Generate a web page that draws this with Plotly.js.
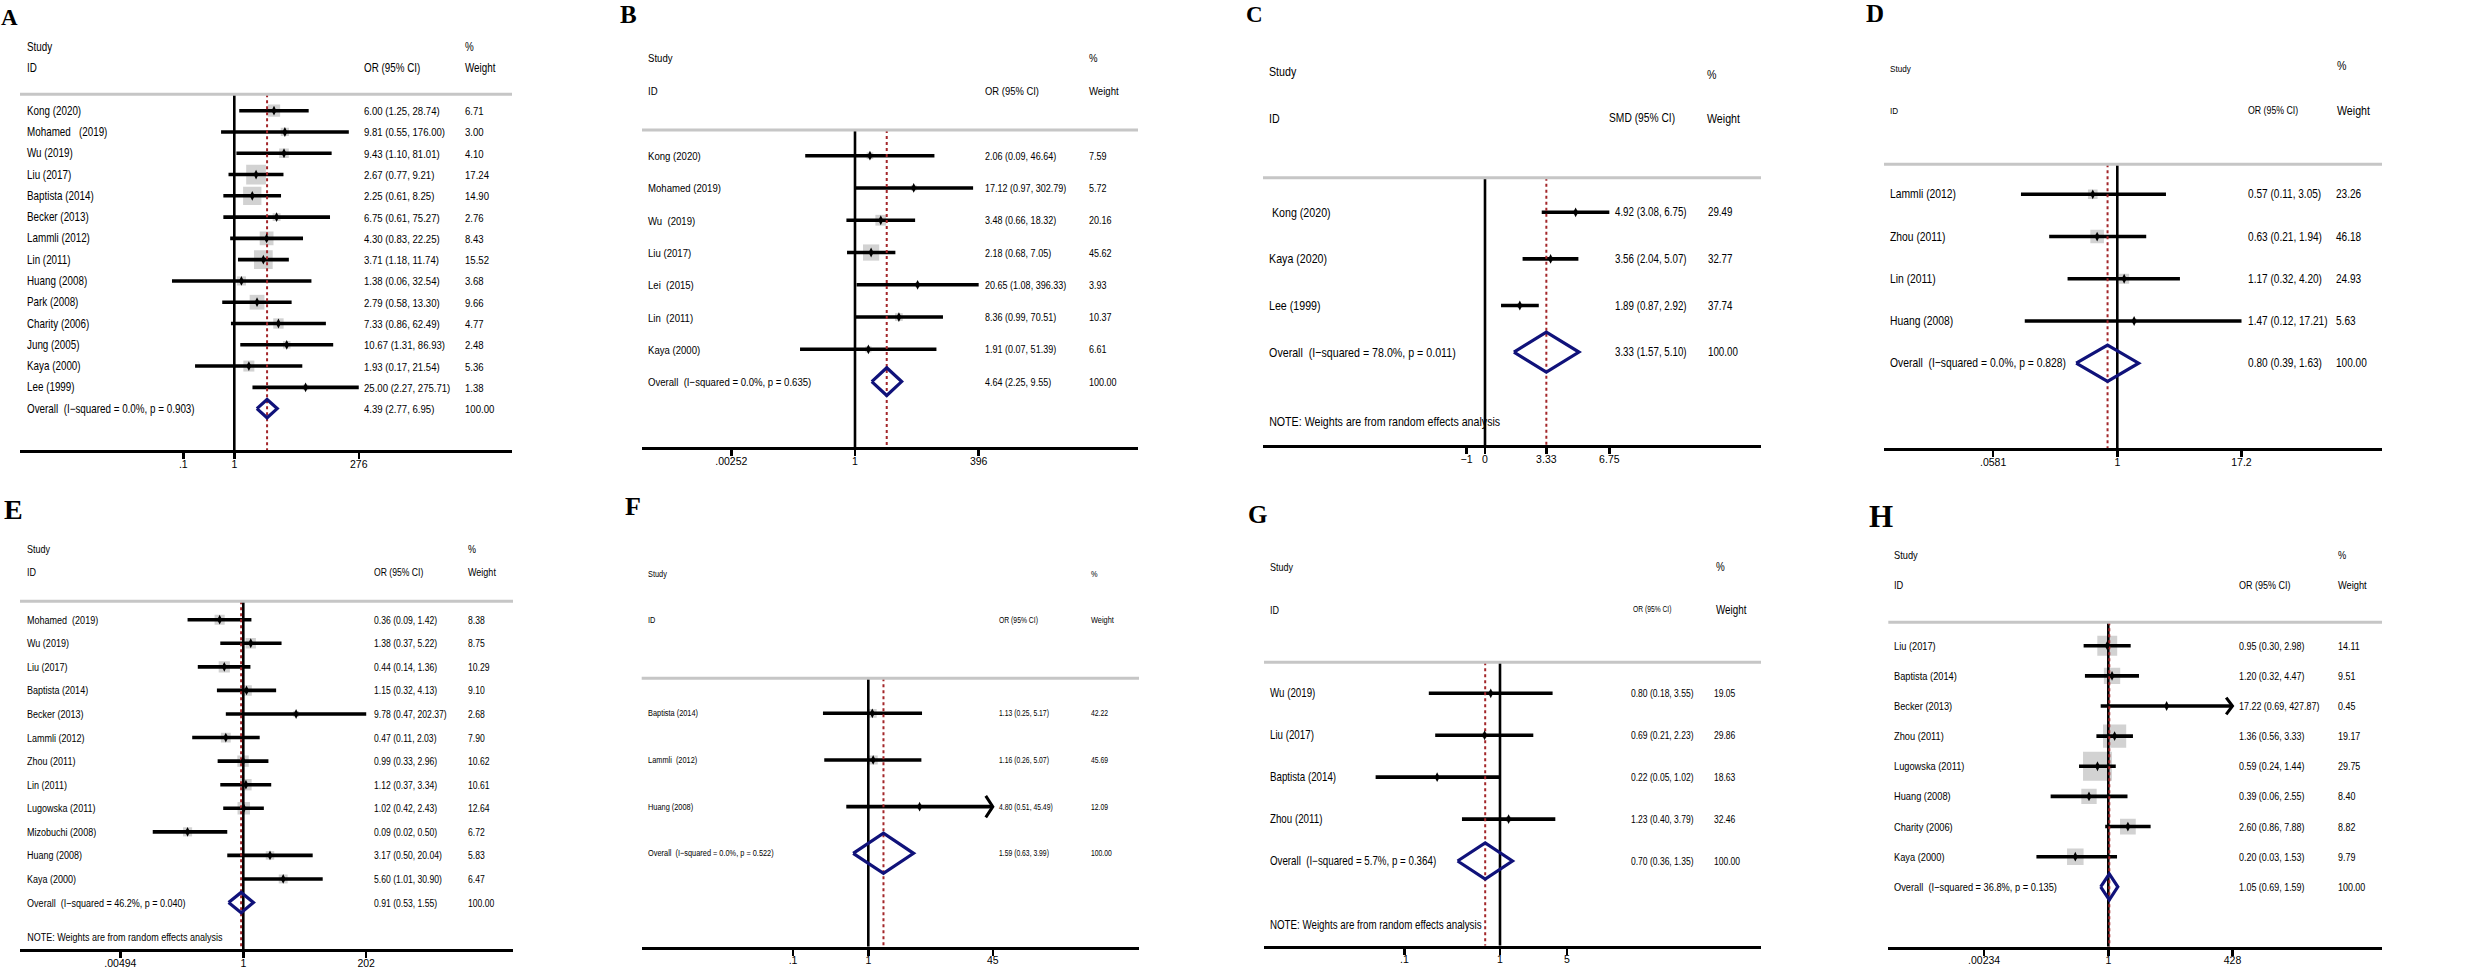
<!DOCTYPE html>
<html><head><meta charset="utf-8">
<script src="https://cdn.plot.ly/plotly-3.0.1.min.js"></script>
<style>html,body{margin:0;padding:0;background:#fff}#chart{width:2480px;height:968px}</style>
</head><body><div id="chart"></div>
<script>
// ================= DATA =================
// Panel A
const A_ids = ["Kong (2020)","Mohamed\u00a0\u00a0 (2019)","Wu (2019)","Liu (2017)","Baptista (2014)","Becker (2013)","Lammli (2012)","Lin (2011)","Huang (2008)","Park (2008)","Charity (2006)","Jung (2005)","Kaya (2000)","Lee (1999)"];
const A_est = [6.00,9.81,9.43,2.67,2.25,6.75,4.30,3.71,1.38,2.79,7.33,10.67,1.93,25.00];
const A_lo  = [1.25,0.55,1.10,0.77,0.61,0.61,0.83,1.18,0.06,0.58,0.86,1.31,0.17,2.27];
const A_hi  = [28.74,176.00,81.01,9.21,8.25,75.27,22.25,11.74,32.54,13.30,62.49,86.93,21.54,275.71];
const A_w   = [6.71,3.00,4.10,17.24,14.90,2.76,8.43,15.52,3.68,9.66,4.77,2.48,5.36,1.38];
const A_overall = [4.39,2.77,6.95];
const A_overallLabel = "Overall\u00a0 (I\u2212squared = 0.0%, p = 0.903)";
const A_tickVals = [0.1,1,276];
const A_tickText = [".1","1","276"];

// Panel B
const B_ids = ["Kong (2020)","Mohamed (2019)","Wu\u00a0 (2019)","Liu (2017)","Lei\u00a0 (2015)","Lin\u00a0 (2011)","Kaya (2000)"];
const B_est = [2.06,17.12,3.48,2.18,20.65,8.36,1.91];
const B_lo  = [0.09,0.97,0.66,0.68,1.08,0.99,0.07];
const B_hi  = [46.64,302.79,18.32,7.05,396.33,70.51,51.39];
const B_w   = [7.59,5.72,20.16,45.62,3.93,10.37,6.61];
const B_overall = [4.64,2.25,9.55];
const B_overallLabel = "Overall\u00a0 (I\u2212squared = 0.0%, p = 0.635)";
const B_tickVals = [0.00252,1,396];
const B_tickText = [".00252","1","396"];

// Panel C (SMD, linear)
const C_ids = ["\u00a0Kong (2020)","Kaya (2020)","Lee (1999)"];
const C_est = [4.92,3.56,1.89];
const C_lo  = [3.08,2.04,0.87];
const C_hi  = [6.75,5.07,2.92];
const C_w   = [29.49,32.77,37.74];
const C_overall = [3.33,1.57,5.10];
const C_overallLabel = "Overall\u00a0 (I\u2212squared = 78.0%, p = 0.011)";
const C_tickVals = [-1,0,3.33,6.75];
const C_tickText = ["\u22121","0","3.33","6.75"];

// Panel D
const D_ids = ["Lammli (2012)","Zhou (2011)","Lin (2011)","Huang (2008)"];
const D_est = [0.57,0.63,1.17,1.47];
const D_lo  = [0.11,0.21,0.32,0.12];
const D_hi  = [3.05,1.94,4.20,17.21];
const D_w   = [23.26,46.18,24.93,5.63];
const D_overall = [0.80,0.39,1.63];
const D_overallLabel = "Overall\u00a0 (I\u2212squared = 0.0%, p = 0.828)";
const D_tickVals = [0.0581,1,17.2];
const D_tickText = [".0581","1","17.2"];

// Panel E
const E_ids = ["Mohamed\u00a0 (2019)","Wu (2019)","Liu (2017)","Baptista (2014)","Becker (2013)","Lammli (2012)","Zhou (2011)","Lin (2011)","Lugowska (2011)","Mizobuchi (2008)","Huang (2008)","Kaya (2000)"];
const E_est = [0.36,1.38,0.44,1.15,9.78,0.47,0.99,1.12,1.02,0.09,3.17,5.60];
const E_lo  = [0.09,0.37,0.14,0.32,0.47,0.11,0.33,0.37,0.42,0.02,0.50,1.01];
const E_hi  = [1.42,5.22,1.36,4.13,202.37,2.03,2.96,3.34,2.43,0.50,20.04,30.90];
const E_w   = [8.38,8.75,10.29,9.10,2.68,7.90,10.62,10.61,12.64,6.72,5.83,6.47];
const E_overall = [0.91,0.53,1.55];
const E_overallLabel = "Overall\u00a0 (I\u2212squared = 46.2%, p = 0.040)";
const E_tickVals = [0.00494,1,202];
const E_tickText = [".00494","1","202"];

// Panel F
const F_ids = ["Baptista (2014)","Lammli\u00a0 (2012)","Huang (2008)"];
const F_est = [1.13,1.16,4.80];
const F_lo  = [0.25,0.26,0.51];
const F_hi  = [5.17,5.07,45.49];
const F_w   = [42.22,45.69,12.09];
const F_arrow = [false,false,true];
const F_overall = [1.59,0.63,3.99];
const F_overallLabel = "Overall\u00a0 (I\u2212squared = 0.0%, p = 0.522)";
const F_tickVals = [0.1,1,45];
const F_tickText = [".1","1","45"];

// Panel G
const G_ids = ["Wu (2019)","Liu (2017)","Baptista (2014)","Zhou (2011)"];
const G_est = [0.80,0.69,0.22,1.23];
const G_lo  = [0.18,0.21,0.05,0.40];
const G_hi  = [3.55,2.23,1.02,3.79];
const G_w   = [19.05,29.86,18.63,32.46];
const G_overall = [0.70,0.36,1.35];
const G_overallLabel = "Overall\u00a0 (I\u2212squared = 5.7%, p = 0.364)";
const G_tickVals = [0.1,1,5];
const G_tickText = [".1","1","5"];

// Panel H
const H_ids = ["Liu (2017)","Baptista (2014)","Becker (2013)","Zhou (2011)","Lugowska (2011)","Huang (2008)","Charity (2006)","Kaya (2000)"];
const H_est = [0.95,1.20,17.22,1.36,0.59,0.39,2.60,0.20];
const H_lo  = [0.30,0.32,0.69,0.56,0.24,0.06,0.86,0.03];
const H_hi  = [2.98,4.47,427.87,3.33,1.44,2.55,7.88,1.53];
const H_w   = [14.11,9.51,0.45,19.17,29.75,8.40,8.82,9.79];
const H_arrow = [false,false,true,false,false,false,false,false];
const H_overall = [1.05,0.69,1.59];
const H_overallLabel = "Overall\u00a0 (I\u2212squared = 36.8%, p = 0.135)";
const H_tickVals = [0.00234,1,428];
const H_tickText = [".00234","1","428"];

const NOTE_TEXT = "NOTE: Weights are from random effects analysis";

// ================= PANEL SETUP =================
const panels = [
 {letter:"A", ids:A_ids, est:A_est, lo:A_lo, hi:A_hi, w:A_w, ov:A_overall, ovLabel:A_overallLabel, tv:A_tickVals, tt:A_tickText, measure:"OR (95% CI)", note:false, arrow:null, log:true,
  pos:{off:[0,0], axL:20, axR:512, axY:450, grayY:94.3, x1:234.3, s:51, row0:110.7, sp:21.28, labelX:25.7, ciX:363.3, wX:464, studyY:46.7, idY:68.3, hdrOrX:363.3, pctX:464, pctY:46.7, letterXY:[9,17.5], letterFs:23, fs:12, ciFs:11.7, hdrFs:12, idFs:12, orFs:12, k:4.75}},
 {letter:"B", ids:B_ids, est:B_est, lo:B_lo, hi:B_hi, w:B_w, ov:B_overall, ovLabel:B_overallLabel, tv:B_tickVals, tt:B_tickText, measure:"OR (95% CI)", note:false, arrow:null, log:true,
  pos:{off:[620,0], axL:22, axR:518, axY:447, grayY:130, x1:235, s:47.6, row0:155.7, sp:32.27, labelX:27.3, ciX:364.3, wX:468.3, studyY:58, idY:90.7, hdrOrX:364.3, pctX:468.3, pctY:58, letterXY:[8,14], letterFs:25, fs:11.7, ciFs:11, hdrFs:11.7, idFs:11.7, orFs:11.5, k:2.4}},
 {letter:"C", ids:C_ids, est:C_est, lo:C_lo, hi:C_hi, w:C_w, ov:C_overall, ovLabel:C_overallLabel, tv:C_tickVals, tt:C_tickText, measure:"SMD (95% CI)", note:true, arrow:null, log:false,
  pos:{off:[1240,0], axL:23, axR:521, axY:445, grayY:177.7, x1:245, s:18.42, row0:212.3, sp:46.6, labelX:28.3, ciX:374.3, wX:466.7, studyY:71.7, idY:118.3, hdrOrX:367.7, pctX:465.7, pctY:74, letterXY:[14.5,14], letterFs:23, fs:13, ciFs:11.9, hdrFs:13, idFs:13, orFs:12.5, k:0.8, noteY:421.7}},
 {letter:"D", ids:D_ids, est:D_est, lo:D_lo, hi:D_hi, w:D_w, ov:D_overall, ovLabel:D_overallLabel, tv:D_tickVals, tt:D_tickText, measure:"OR (95% CI)", note:false, arrow:null, log:true,
  pos:{off:[1860,0], axL:24, axR:522, axY:448.3, grayY:164.3, x1:257.3, s:100.5, row0:194.3, sp:42.23, labelX:29.3, ciX:387.3, wX:475, studyY:68.3, idY:110, hdrOrX:387.3, pctX:475.7, pctY:65.7, letterXY:[15,13], letterFs:25, fs:12.6, ciFs:12.3, hdrFs:9.9, idFs:9.9, orFs:10.7, wHdrFs:13, k:2.0}},
 {letter:"E", ids:E_ids, est:E_est, lo:E_lo, hi:E_hi, w:E_w, ov:E_overall, ovLabel:E_overallLabel, tv:E_tickVals, tt:E_tickText, measure:"OR (95% CI)", note:true, arrow:null, log:true,
  pos:{off:[0,484], axL:20, axR:513, axY:465, grayY:117.3, x1:243.3, s:53.3, row0:135.7, sp:23.57, labelX:25.7, ciX:372.7, wX:466.7, studyY:65, idY:88.3, hdrOrX:372.7, pctX:466.7, pctY:65, letterXY:[13,25], letterFs:28, fs:11, ciFs:10.5, hdrFs:11, idFs:11, orFs:10.5, k:3.5, noteY:453.3}},
 {letter:"F", ids:F_ids, est:F_est, lo:F_lo, hi:F_hi, w:F_w, ov:F_overall, ovLabel:F_overallLabel, tv:F_tickVals, tt:F_tickText, measure:"OR (95% CI)", note:false, arrow:F_arrow, log:true,
  pos:{off:[620,484], axL:21.7, axR:519, axY:462.7, grayY:194.3, x1:248.3, s:75.3, row0:229.3, sp:46.67, labelX:26.7, ciX:377.7, wX:470, studyY:90, idY:136, hdrOrX:377.7, pctX:470, pctY:90, letterXY:[12.5,22.5], letterFs:26, fs:9, ciFs:8.3, hdrFs:9, idFs:9, orFs:8.3, k:1.35, arrowF:1.24, arrowH:0.23}},
 {letter:"G", ids:G_ids, est:G_est, lo:G_lo, hi:G_hi, w:G_w, ov:G_overall, ovLabel:G_overallLabel, tv:G_tickVals, tt:G_tickText, measure:"OR (95% CI)", note:true, arrow:null, log:true,
  pos:{off:[1240,484], axL:24, axR:521, axY:461.7, grayY:178.3, x1:260, s:95.6, row0:209.3, sp:41.93, labelX:29.3, ciX:390, wX:473.3, studyY:83.3, idY:125.7, hdrOrX:392.3, pctX:475, pctY:83.3, letterXY:[17.5,30], letterFs:25, fs:11.9, ciFs:10.4, hdrFs:11, idFs:11, orFs:8.2, wHdrFs:12, k:0.9, noteY:440.7}},
 {letter:"H", ids:H_ids, est:H_est, lo:H_lo, hi:H_hi, w:H_w, ov:H_overall, ovLabel:H_overallLabel, tv:H_tickVals, tt:H_tickText, measure:"OR (95% CI)", note:false, arrow:H_arrow, log:true,
  pos:{off:[1860,484], axL:28.3, axR:522, axY:462.7, grayY:138.3, x1:248.3, s:47.2, row0:161.7, sp:30.14, labelX:33.3, ciX:377.7, wX:476.7, studyY:71, idY:101, hdrOrX:377.7, pctX:476.7, pctY:71, letterXY:[21,32], letterFs:31, fs:11.3, ciFs:10.9, hdrFs:11.3, idFs:11.3, orFs:11, k:5.3, arrowF:1.36, arrowH:0.28}}
];

const FONT = "'Liberation Sans', Arial, sans-serif";
const SERIF = "'Liberation Serif', 'Times New Roman', serif";
const NARROW = 0.82;   // horizontal compression to mimic condensed typeface
const W = 2480, H = 968;
const NAVY = "#10127a", RED = "#a3262a", GRAY = "#bfbfbf";
const f2 = v => v.toFixed(2);

const traces = [], annotations = [], shapes = [];
const layout = {
  width: W, height: H, margin: {l:0, r:0, t:0, b:0},
  paper_bgcolor: "#fff", plot_bgcolor: "#fff", showlegend: false,
  font: {family: FONT, color: "#000"}
};

function ann(text, x, y, xref, yref, size, opts) {
  annotations.push(Object.assign({text, x, y, xref, yref, showarrow:false, borderpad:0,
    xanchor:"left", yanchor:"middle", font:{family:FONT, size, color:"#000"}}, opts||{}));
}

panels.forEach((p, idx) => {
  const n = idx + 1;
  const xa = n === 1 ? "x" : "x" + n, ya = n === 1 ? "y" : "y" + n;
  const xk = n === 1 ? "xaxis" : "xaxis" + n, yk = n === 1 ? "yaxis" : "yaxis" + n;
  const P = p.pos;
  const px = v => (P.off[0] + v) / W;
  const py = v => 1 - (P.off[1] + v) / H;

  const yBot = (P.axY - P.row0) / P.sp, yTop = (P.grayY - P.row0) / P.sp;
  layout[xk] = {
    domain: [px(P.axL), px(P.axR)], type: p.log ? "log" : "linear",
    range: [(P.axL - P.x1) / P.s, (P.axR - P.x1) / P.s], anchor: ya,
    showline: true, linewidth: 3, linecolor: "#000", mirror: false,
    ticks: "outside", ticklen: 6, tickwidth: 2.5, tickcolor: "#000",
    ticklabelstandoff: -4,
    tickmode: "array", tickvals: p.tv, ticktext: p.tt,
    tickfont: {family: FONT, size: 10.5, color: "#000"},
    showgrid: false, zeroline: false, fixedrange: true
  };
  layout[yk] = {domain: [py(P.axY), py(P.grayY)], range: [yBot, yTop], visible: false,
    anchor: xa, fixedrange: true, showgrid:false, zeroline:false};

  // gray header separator
  shapes.push({type:"line", xref:"paper", yref:"paper", x0:px(P.axL), x1:px(P.axR),
    y0:py(P.grayY), y1:py(P.grayY), line:{color:"#c6c6c6", width:3}});

  const rows = p.ids.map((_, i) => i);
  const nOv = p.ids.length;
  const ref = p.log ? 1 : 0;
  const xmax = p.tv[p.tv.length - 1];

  // weight boxes
  traces.push({type:"scatter", mode:"markers", xaxis:xa, yaxis:ya, x:p.est, y:rows, hoverinfo:"skip",
    marker:{symbol:"square", color:GRAY, size:p.w.map(w => P.k * Math.sqrt(w)), line:{width:0}}});

  // CI lines (clipped with arrow when flagged)
  const cx = [], cy = [], ax = [], ay = [];
  p.ids.forEach((_, i) => {
    const clip = p.arrow && p.arrow[i];
    const hi = clip ? xmax : p.hi[i];
    cx.push(p.lo[i], hi, null); cy.push(i, i, null);
    if (clip) {
      ax.push(xmax / P.arrowF, xmax, xmax / P.arrowF, null);
      ay.push(i - P.arrowH, i, i + P.arrowH, null);
    }
  });
  traces.push({type:"scatter", mode:"lines", xaxis:xa, yaxis:ya, x:cx, y:cy, hoverinfo:"skip",
    line:{color:"#000", width:3.6}, connectgaps:false});
  if (ax.length) traces.push({type:"scatter", mode:"lines", xaxis:xa, yaxis:ya, x:ax, y:ay, hoverinfo:"skip",
    line:{color:"#000", width:3}, connectgaps:false});

  // null line
  traces.push({type:"scatter", mode:"lines", xaxis:xa, yaxis:ya, x:[ref, ref], y:[yTop, yBot], hoverinfo:"skip",
    line:{color:"#000", width:2.6}});
  // overall dashed line
  traces.push({type:"scatter", mode:"lines", xaxis:xa, yaxis:ya, x:[p.ov[0], p.ov[0]], y:[yTop, yBot], hoverinfo:"skip",
    line:{color:RED, width:2, dash:"3px,3px"}});

  // point estimates
  traces.push({type:"scatter", mode:"markers", xaxis:xa, yaxis:ya, x:p.est, y:rows, hoverinfo:"skip",
    marker:{symbol:"diamond-tall", color:"#000", size:7, line:{width:0}}});

  // overall diamond
  const dh = 0.43;
  traces.push({type:"scatter", mode:"lines", xaxis:xa, yaxis:ya, hoverinfo:"skip",
    x:[p.ov[1], p.ov[0], p.ov[2], p.ov[0], p.ov[1]],
    y:[nOv, nOv - dh, nOv, nOv + dh, nOv],
    line:{color:NAVY, width:3.2}});

  // panel letter
  annotations.push({text:"<b>" + p.letter + "</b>", x:px(P.letterXY[0]), y:py(P.letterXY[1]), xref:"paper", yref:"paper",
    showarrow:false, xanchor:"center", yanchor:"middle", font:{family:SERIF, size:P.letterFs, color:"#000"}});

  // headers
  ann("Study", px(P.labelX), py(P.studyY), "paper", "paper", P.hdrFs);
  ann("ID", px(P.labelX), py(P.idY), "paper", "paper", P.idFs);
  ann(p.measure, px(P.hdrOrX), py(P.idY), "paper", "paper", P.orFs);
  ann("%", px(P.pctX), py(P.pctY), "paper", "paper", P.wHdrFs || P.hdrFs);
  ann("Weight", px(P.pctX), py(P.idY), "paper", "paper", P.wHdrFs || P.hdrFs);

  // rows
  p.ids.forEach((id, i) => {
    ann(id, px(P.labelX), i, "paper", ya, P.fs);
    ann(f2(p.est[i]) + " (" + f2(p.lo[i]) + ", " + f2(p.hi[i]) + ")", px(P.ciX), i, "paper", ya, P.ciFs);
    ann(f2(p.w[i]), px(P.wX), i, "paper", ya, P.ciFs);
  });
  ann(p.ovLabel, px(P.labelX), nOv, "paper", ya, P.fs);
  ann(f2(p.ov[0]) + " (" + f2(p.ov[1]) + ", " + f2(p.ov[2]) + ")", px(P.ciX), nOv, "paper", ya, P.ciFs);
  ann("100.00", px(P.wX), nOv, "paper", ya, P.ciFs);

  if (p.note) ann(NOTE_TEXT, px(P.labelX), py(P.noteY), "paper", "paper", P.fs);
});

layout.annotations = annotations;
layout.shapes = shapes;
Plotly.newPlot("chart", traces, layout, {staticPlot:true, displayModeBar:false}).then(gd => {
  gd.querySelectorAll("text.annotation-text").forEach(t => {
    const fam = t.style.fontFamily || "";
    if (fam.indexOf("Serif") >= 0) return;
    t.style.transformBox = "fill-box";
    t.style.transformOrigin = "0% 50%";
    t.style.transform = "scaleX(" + NARROW + ")";
  });
});
</script>
</body></html>
